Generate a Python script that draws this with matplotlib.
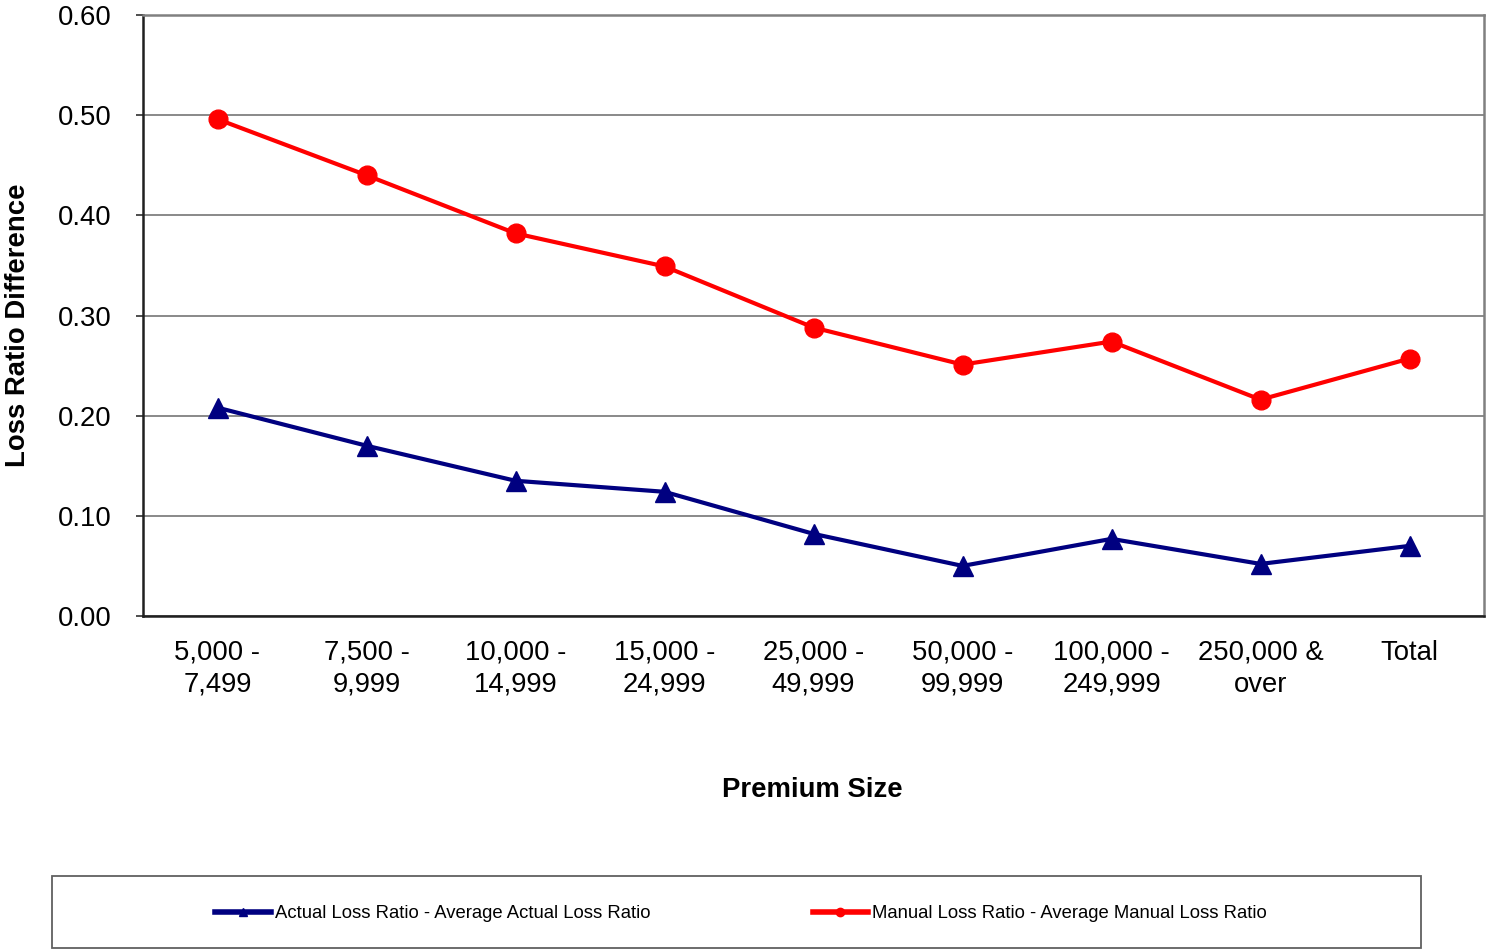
import matplotlib
matplotlib.use("Agg")
import matplotlib.pyplot as plt
from matplotlib.lines import Line2D
from matplotlib.patches import Rectangle

plt.rcParams['font.family'] = ['Liberation Sans', 'DejaVu Sans']

categories = ["5,000 -\n7,499", "7,500 -\n9,999", "10,000 -\n14,999", "15,000 -\n24,999",
              "25,000 -\n49,999", "50,000 -\n99,999", "100,000 -\n249,999", "250,000 &\nover", "Total"]
actual_diff = [0.208, 0.170, 0.135, 0.124, 0.082, 0.050, 0.077, 0.052, 0.070]
manual_diff = [0.496, 0.440, 0.382, 0.349, 0.288, 0.251, 0.274, 0.216, 0.257]
yticks = [0.0, 0.1, 0.2, 0.3, 0.4, 0.5, 0.6]
series_names = ["Actual Loss Ratio - Average Actual Loss Ratio",
                "Manual Loss Ratio - Average Manual Loss Ratio"]

W, H = 1486, 950
fig = plt.figure(figsize=(W / 100, H / 100), dpi=100)
ax = fig.add_axes([143 / W, 1 - 616 / H, (1484 - 143) / W, (616 - 15) / H])

x = list(range(len(categories)))
blue = "#000080"
red = "#FF0000"

ax.plot(x, actual_diff, color=blue, lw=3.0, marker='^', markersize=14.5, zorder=3)
ax.plot(x, manual_diff, color=red, lw=3.0, marker='o', markersize=13.5, zorder=3)

ax.set_xlim(-0.5, len(categories) - 0.5)
ax.set_ylim(0, 0.6)
ax.set_yticks(yticks)
ax.set_yticklabels([f"{v:.2f}" for v in yticks])
ax.set_xticks(x)
ax.set_xticklabels(categories)

ax.grid(axis='y', color='#808080', lw=1.3, zorder=1)
ax.set_axisbelow(True)

ax.tick_params(axis='x', length=0, pad=17, labelsize=19.8)
ax.tick_params(axis='y', length=5, width=1.3, color='#404040', direction='out', pad=17.5, labelsize=19.8)
for lbl in ax.get_xticklabels():
    lbl.set_linespacing(1.3)

for side in ['left', 'bottom']:
    ax.spines[side].set_color('#202020')
    ax.spines[side].set_linewidth(1.8)
for side in ['top', 'right']:
    ax.spines[side].set_color('#808080')
    ax.spines[side].set_linewidth(1.8)

fig.text(812 / W, 1 - 790 / H, "Premium Size", ha='center', va='center',
         fontsize=19.8, fontweight='bold')
fig.text(18 / W, 1 - 325 / H, "Loss Ratio Difference", ha='center', va='center',
         rotation=90, fontsize=19.8, fontweight='bold')

# legend box
rect = Rectangle((52 / W, 2 / H), (1421 - 52) / W, (948 - 876) / H, transform=fig.transFigure,
                 facecolor='none', edgecolor='#606060', lw=1.3)
fig.add_artist(rect)

handles = [Line2D([], [], color=blue, lw=4, marker='^', markersize=6),
           Line2D([], [], color=red, lw=4, marker='o', markersize=6)]
fig.legend(handles, series_names, loc='center', bbox_to_anchor=(741 / W, 1 - 914 / H),
           ncol=2, frameon=False, fontsize=13.3, handlelength=3.0, handletextpad=0.2,
           columnspacing=8.8)

fig.savefig("out.png", dpi=100)
